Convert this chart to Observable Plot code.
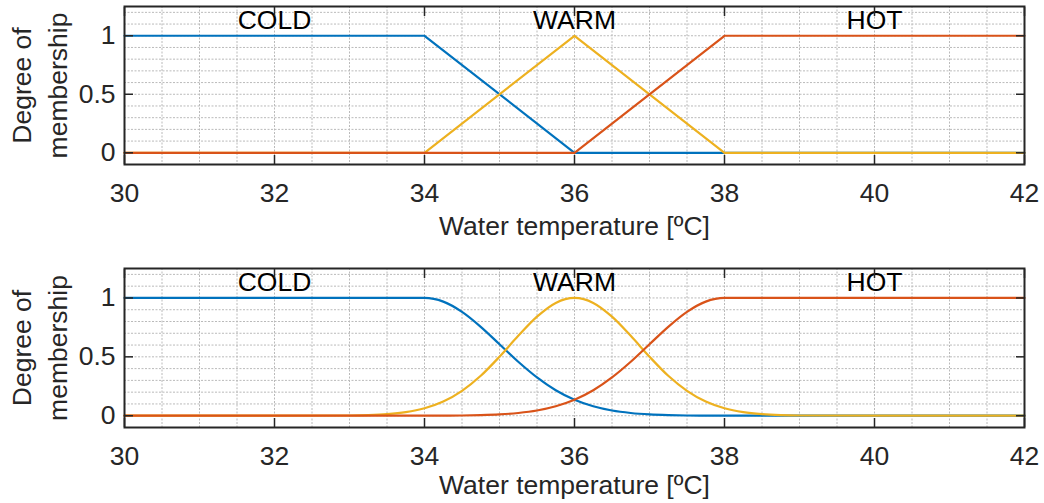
<!DOCTYPE html>
<html>
<head>
<meta charset="utf-8">
<script src="https://cdn.jsdelivr.net/npm/d3@7"></script>
<script src="https://cdn.jsdelivr.net/npm/@observablehq/plot@0.6"></script>
<style>
  html, body { margin: 0; padding: 0; background: white; }
  #chart { width: 1044px; }
  #chart svg { display: block; }
</style>
</head>
<body>
<div id="chart"></div>
<script>
// ---------- data ----------
const seriesNames = ["COLD", "WARM", "HOT"];
const seriesColors = ["#0072BD", "#EDB120", "#D95319"];
const labelX = [32, 36, 40];
const labelY = [1.13, 1.13, 1.13];

const xTicks = [30, 32, 34, 36, 38, 40, 42];
const yTicks = [0, 0.5, 1];
const yTickLabels = ["0", "0.5", "1"];
const xGrid = [30, 30.5, 31, 31.5, 32, 32.5, 33, 33.5, 34, 34.5, 35, 35.5, 36, 36.5, 37, 37.5, 38, 38.5, 39, 39.5, 40, 40.5, 41, 41.5, 42];
const yGrid = [0, 0.1, 0.2, 0.3, 0.4, 0.5, 0.6, 0.7, 0.8, 0.9, 1, 1.1, 1.2];

const xLabel = "Water temperature [ºC]";
const yLabel = "Degree of\nmembership";

// top: piecewise linear membership functions
const xTop    = [30, 34, 36, 38, 42];
const coldTop = [1, 1, 0, 0, 0];
const warmTop = [0, 0, 1, 0, 0];
const hotTop  = [0, 0, 0, 1, 1];

// bottom: smooth (gaussian-like) membership functions
const xBottom = [30, 31, 32, 33, 33.25, 33.5, 33.75, 34, 34.25, 34.5, 34.75, 35, 35.25, 35.5, 35.75, 36,
                 36.25, 36.5, 36.75, 37, 37.25, 37.5, 37.75, 38, 38.25, 38.5, 38.75, 39, 40, 41, 42];
const coldBottom = [1, 1, 1, 1, 1, 1, 1, 1, 0.969, 0.882, 0.755, 0.607, 0.458, 0.325, 0.216, 0.135,
                    0.080, 0.044, 0.023, 0.011, 0.005, 0.002, 0.001, 0, 0, 0, 0, 0, 0, 0, 0];
const warmBottom = [0, 0, 0, 0.002, 0.005, 0.013, 0.030, 0.063, 0.120, 0.211, 0.339, 0.501, 0.678, 0.841, 0.958, 1,
                    0.958, 0.841, 0.678, 0.501, 0.339, 0.211, 0.120, 0.063, 0.030, 0.013, 0.005, 0.002, 0, 0, 0];
const hotBottom  = [0, 0, 0, 0, 0, 0, 0, 0, 0.001, 0.002, 0.005, 0.011, 0.023, 0.044, 0.080, 0.135,
                    0.216, 0.325, 0.458, 0.607, 0.755, 0.882, 0.969, 1, 1, 1, 1, 1, 1, 1, 1];

// ---------- chart ----------
const FONT = "'Liberation Sans', Arial, Helvetica, sans-serif";
const FS = 26.5;
const INK = "#262626";

function rows(xs, ys) { return xs.map((x, i) => ({x, y: ys[i]})); }

function makeChart({xs, ys, height, marginTop, marginBottom, curve, labelDy}) {
  const lines = ys.map((vals, k) =>
    Plot.line(rows(xs, vals), {x: "x", y: "y", stroke: seriesColors[k], strokeWidth: 2.2, curve})
  );
  return Plot.plot({
    width: 1044,
    height,
    marginLeft: 124,
    marginRight: 20,
    marginTop,
    marginBottom,
    x: {domain: [30, 42]},
    y: {domain: [-0.1, 1.25]},
    style: {fontFamily: FONT, fontSize: FS + "px", color: INK, background: "white", overflow: "visible"},
    marks: [
      Plot.ruleX(xGrid, {stroke: "#bababa", strokeDasharray: "2,1.5", strokeWidth: 1}),
      Plot.ruleY(yGrid, {stroke: "#bababa", strokeDasharray: "2,1.5", strokeWidth: 1}),
      ...lines,
      Plot.text(seriesNames, {x: labelX, y: labelY, text: d => d, fill: "black", fontSize: FS, fontFamily: FONT}),
      Plot.frame({stroke: INK, strokeWidth: 2}),
      // inward tick marks on all four sides
      Plot.axisX(xTicks, {anchor: "bottom", tickSize: 9, dy: -9, tickFormat: () => "", label: null, strokeWidth: 1.5}),
      Plot.axisX(xTicks, {anchor: "top", tickSize: 9, dy: 9, tickFormat: () => "", label: null, strokeWidth: 1.5}),
      Plot.axisY(yTicks, {anchor: "left", tickSize: 9, dx: 9, tickFormat: () => "", label: null, strokeWidth: 1.5}),
      Plot.axisY(yTicks, {anchor: "right", tickSize: 9, dx: -9, tickFormat: () => "", label: null, strokeWidth: 1.5}),
      // tick labels
      Plot.axisX(xTicks, {anchor: "bottom", tickSize: 0, tickPadding: 19, label: null, fontSize: FS, tickFormat: d => String(d)}),
      Plot.axisY(yTicks, {anchor: "left", tickSize: 0, tickPadding: 9, label: null, fontSize: FS,
                          tickFormat: d => yTickLabels[yTicks.indexOf(d)]}),
      // axis titles
      Plot.text([xLabel], {frameAnchor: "bottom", lineAnchor: "top", dy: labelDy, fontSize: FS, fill: INK, fontFamily: FONT}),
      Plot.text([yLabel], {frameAnchor: "left", rotate: -90, dx: -87, textAnchor: "middle", lineAnchor: "middle",
                           lineHeight: 1.36, fontSize: FS, fill: INK, fontFamily: FONT})
    ]
  });
}

const chart = document.getElementById("chart");
chart.append(makeChart({
  xs: xTop, ys: [coldTop, warmTop, hotTop],
  height: 251, marginTop: 6, marginBottom: 87, curve: "linear", labelDy: 52
}));
chart.append(makeChart({
  xs: xBottom, ys: [coldBottom, warmBottom, hotBottom],
  height: 252, marginTop: 17, marginBottom: 76, curve: "monotone-x", labelDy: 48
}));
</script>
</body>
</html>
